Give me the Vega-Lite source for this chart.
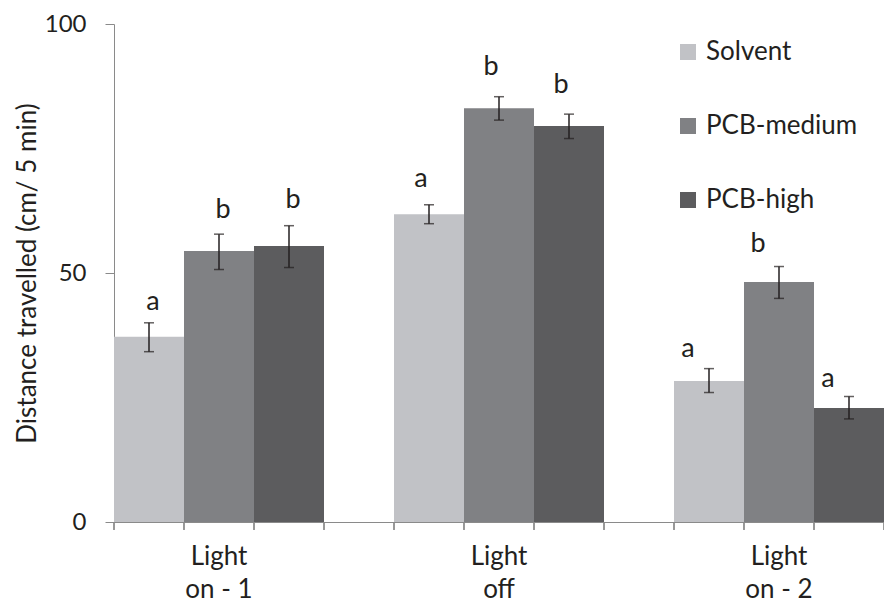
{
  "$schema": "https://vega.github.io/schema/vega-lite/v6.json",
  "width": 770,
  "height": 498,
  "autosize": {"type": "none"},
  "padding": {"left": 114, "top": 24, "right": 0, "bottom": 85},
  "background": "white",
  "config": {
    "view": {"stroke": null},
    "font": "Lato",
    "axis": {"grid": false, "domainColor": "#8a8a8a", "tickColor": "#8a8a8a", "labelColor": "#231f20", "titleColor": "#231f20", "labelFont": "Lato", "titleFont": "Lato"},
    "legend": {"labelFont": "Lato"}
  },
  "data": {
    "values": [
      {"condition": "Light on - 1", "treatment": "Solvent", "mean": 37.2, "lo": 34.2, "hi": 40.0, "letter": "a", "letter_y": 42.6},
      {"condition": "Light on - 1", "treatment": "PCB-medium", "mean": 54.4, "lo": 50.7, "hi": 57.8, "letter": "b", "letter_y": 61.0},
      {"condition": "Light on - 1", "treatment": "PCB-high", "mean": 55.4, "lo": 51.1, "hi": 59.5, "letter": "b", "letter_y": 63.1},
      {"condition": "Light off", "treatment": "Solvent", "mean": 61.8, "lo": 59.9, "hi": 63.7, "letter": "a", "letter_y": 67.3},
      {"condition": "Light off", "treatment": "PCB-medium", "mean": 83.1, "lo": 80.7, "hi": 85.4, "letter": "b", "letter_y": 89.8},
      {"condition": "Light off", "treatment": "PCB-high", "mean": 79.5, "lo": 77.0, "hi": 81.9, "letter": "b", "letter_y": 86.1},
      {"condition": "Light on - 2", "treatment": "Solvent", "mean": 28.3, "lo": 26.0, "hi": 30.8, "letter": "a", "letter_y": 33.2},
      {"condition": "Light on - 2", "treatment": "PCB-medium", "mean": 48.2, "lo": 44.9, "hi": 51.3, "letter": "b", "letter_y": 54.3},
      {"condition": "Light on - 2", "treatment": "PCB-high", "mean": 22.9, "lo": 20.7, "hi": 25.2, "letter": "a", "letter_y": 27.2}
    ]
  },
  "encoding": {
    "x": {
      "field": "condition", "type": "nominal",
      "sort": ["Light on - 1", "Light off", "Light on - 2"],
      "scale": {"paddingInner": 0.25, "paddingOuter": 0},
      "axis": {"title": null, "labelAngle": 0, "ticks": false, "labelFontSize": 26, "labelLineHeight": 33, "labelPadding": 21, "labelExpr": "['Light', substring(datum.label, 6)]"}
    }
  },
  "layer": [
    {
      "mark": {"type": "bar"},
      "encoding": {
        "xOffset": {"field": "treatment", "type": "nominal", "sort": ["Solvent", "PCB-medium", "PCB-high"], "scale": {"paddingInner": 0, "paddingOuter": 0}},
        "y": {"field": "mean", "type": "quantitative", "title": "Distance travelled (cm/ 5 min)",
          "scale": {"domain": [0, 100], "nice": false},
          "axis": {"values": [0, 50, 100], "tickSize": 9, "labelPadding": 19, "labelFontSize": 24, "titleFontSize": 26, "titleFontWeight": "normal", "titlePadding": 4}},
        "color": {
          "field": "treatment", "type": "nominal",
          "sort": ["Solvent", "PCB-medium", "PCB-high"],
          "scale": {"domain": ["Solvent", "PCB-medium", "PCB-high"], "range": ["#c1c2c6", "#808184", "#5c5c5e"]},
          "legend": {"title": null, "orient": "none", "legendX": 561, "legendY": 15, "symbolType": "square", "symbolSize": 256, "symbolStrokeWidth": 0, "labelFontSize": 26, "labelColor": "#231f20", "rowPadding": 48, "labelOffset": 5}
        }
      }
    },
    {
      "mark": {"type": "rule", "color": "#231f20", "strokeWidth": 1.5},
      "encoding": {
        "xOffset": {"field": "treatment", "type": "nominal", "sort": ["Solvent", "PCB-medium", "PCB-high"]},
        "y": {"field": "lo", "type": "quantitative", "title": "Distance travelled (cm/ 5 min)"},
        "y2": {"field": "hi"}
      }
    },
    {
      "mark": {"type": "tick", "color": "#231f20", "size": 10, "thickness": 1.5},
      "encoding": {
        "xOffset": {"field": "treatment", "type": "nominal", "sort": ["Solvent", "PCB-medium", "PCB-high"]},
        "y": {"field": "lo", "type": "quantitative", "title": "Distance travelled (cm/ 5 min)"}
      }
    },
    {
      "mark": {"type": "tick", "color": "#231f20", "size": 10, "thickness": 1.5},
      "encoding": {
        "xOffset": {"field": "treatment", "type": "nominal", "sort": ["Solvent", "PCB-medium", "PCB-high"]},
        "y": {"field": "hi", "type": "quantitative", "title": "Distance travelled (cm/ 5 min)"}
      }
    },
    {
      "transform": [{"filter": "datum.condition == 'Light on - 1'"}],
      "mark": {"type": "text", "fontSize": 27, "color": "#231f20", "baseline": "alphabetic", "dx": 4},
      "encoding": {
        "xOffset": {"field": "treatment", "type": "nominal", "sort": ["Solvent", "PCB-medium", "PCB-high"]},
        "y": {"field": "letter_y", "type": "quantitative", "title": "Distance travelled (cm/ 5 min)"},
        "text": {"field": "letter"}
      }
    },
    {
      "transform": [{"filter": "datum.condition == 'Light off'"}],
      "mark": {"type": "text", "fontSize": 27, "color": "#231f20", "baseline": "alphabetic", "dx": -8},
      "encoding": {
        "xOffset": {"field": "treatment", "type": "nominal", "sort": ["Solvent", "PCB-medium", "PCB-high"]},
        "y": {"field": "letter_y", "type": "quantitative", "title": "Distance travelled (cm/ 5 min)"},
        "text": {"field": "letter"}
      }
    },
    {
      "transform": [{"filter": "datum.condition == 'Light on - 2'"}],
      "mark": {"type": "text", "fontSize": 27, "color": "#231f20", "baseline": "alphabetic", "dx": -21},
      "encoding": {
        "xOffset": {"field": "treatment", "type": "nominal", "sort": ["Solvent", "PCB-medium", "PCB-high"]},
        "y": {"field": "letter_y", "type": "quantitative", "title": "Distance travelled (cm/ 5 min)"},
        "text": {"field": "letter"}
      }
    },
    {
      "mark": {"type": "rule", "color": "#8a8a8a", "strokeWidth": 1},
      "encoding": {
        "x": {"field": "condition", "type": "nominal", "sort": ["Light on - 1", "Light off", "Light on - 2"], "bandPosition": 0},
        "y": {"datum": 0, "type": "quantitative"},
        "y2": {"datum": -1.6}
      }
    },
    {
      "mark": {"type": "rule", "color": "#8a8a8a", "strokeWidth": 1},
      "encoding": {
        "x": {"field": "condition", "type": "nominal", "sort": ["Light on - 1", "Light off", "Light on - 2"], "bandPosition": 0.33333},
        "y": {"datum": 0, "type": "quantitative"},
        "y2": {"datum": -1.6}
      }
    },
    {
      "mark": {"type": "rule", "color": "#8a8a8a", "strokeWidth": 1},
      "encoding": {
        "x": {"field": "condition", "type": "nominal", "sort": ["Light on - 1", "Light off", "Light on - 2"], "bandPosition": 0.66667},
        "y": {"datum": 0, "type": "quantitative"},
        "y2": {"datum": -1.6}
      }
    },
    {
      "mark": {"type": "rule", "color": "#8a8a8a", "strokeWidth": 1},
      "encoding": {
        "x": {"field": "condition", "type": "nominal", "sort": ["Light on - 1", "Light off", "Light on - 2"], "bandPosition": 1},
        "y": {"datum": 0, "type": "quantitative"},
        "y2": {"datum": -1.6}
      }
    }
  ]
}
